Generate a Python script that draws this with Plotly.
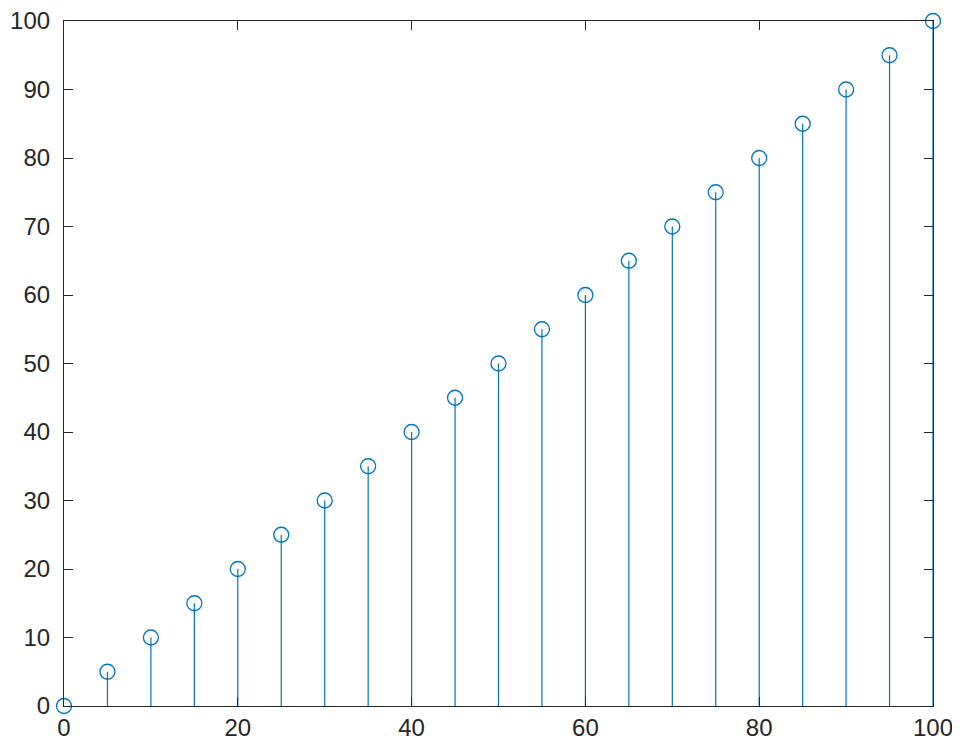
import plotly.graph_objects as go

x_vals = [0, 5, 10, 15, 20, 25, 30, 35, 40, 45, 50, 55, 60, 65, 70, 75, 80, 85, 90, 95, 100]
y_vals = [0, 5, 10, 15, 20, 25, 30, 35, 40, 45, 50, 55, 60, 65, 70, 75, 80, 85, 90, 95, 100]
tick_vals = [0, 10, 20, 30, 40, 50, 60, 70, 80, 90, 100]
x_tick_vals = [0, 20, 40, 60, 80, 100]

color = "#0072BD"
axis_color = "#262626"

sx, sy = [], []
for xv, yv in zip(x_vals, y_vals):
    sx += [xv, xv, None]
    sy += [0, yv, None]

fig = go.Figure()
fig.add_trace(go.Scatter(x=sx, y=sy, mode="lines", line=dict(color=color, width=1.2),
                         hoverinfo="skip", showlegend=False, cliponaxis=False))
fig.add_trace(go.Scatter(x=x_vals, y=y_vals, mode="markers",
                         marker=dict(symbol="circle-open", size=15, color=color,
                                     line=dict(width=1.3, color=color)),
                         showlegend=False, cliponaxis=False))

axis_common = dict(showgrid=False, zeroline=False, showline=True, linecolor=axis_color,
                   linewidth=1.2, mirror="ticks", ticks="inside", ticklen=9, tickwidth=1.2,
                   tickcolor=axis_color, automargin=False, ticklabeloverflow="allow",
                   tickfont=dict(family="Liberation Sans, Arial, sans-serif", size=24, color=axis_color))

fig.update_xaxes(range=[0, 100], tickvals=x_tick_vals, ticklabelstandoff=0, **axis_common)
fig.update_yaxes(range=[0, 100], tickvals=tick_vals, ticklabelstandoff=8, **axis_common)

fig.update_layout(width=960, height=756, margin=dict(l=56, r=35, t=13, b=58, autoexpand=False),
                  plot_bgcolor="white", paper_bgcolor="white")

fig.write_html("out.html")
